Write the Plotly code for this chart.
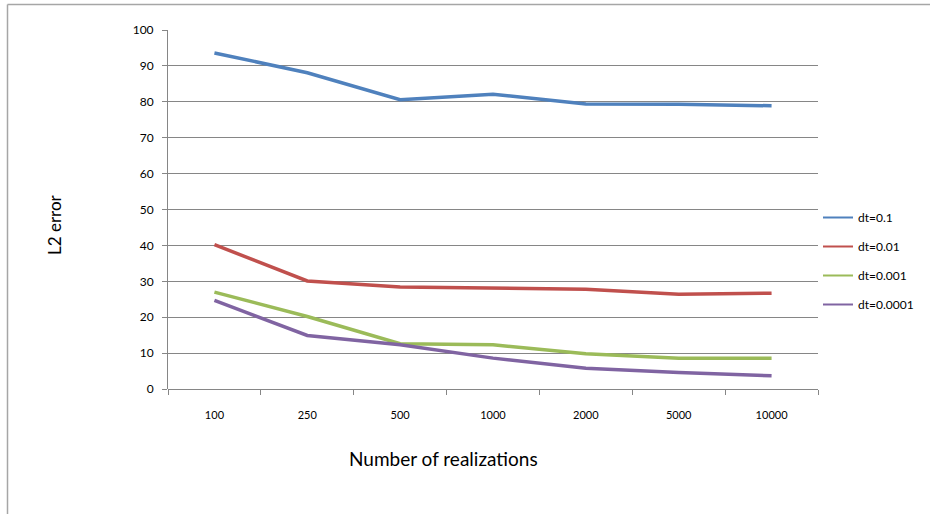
import plotly.graph_objects as go

categories = ["100", "250", "500", "1000", "2000", "5000", "10000"]
dt_01 = [93.6, 88.1, 80.6, 82.1, 79.4, 79.3, 78.9]
dt_001 = [40.2, 30.1, 28.4, 28.1, 27.8, 26.4, 26.7]
dt_0001 = [27.0, 20.2, 12.6, 12.3, 9.8, 8.6, 8.6]
dt_00001 = [24.7, 14.9, 12.3, 8.6, 5.8, 4.6, 3.7]
series_names = ["dt=0.1", "dt=0.01", "dt=0.001", "dt=0.0001"]
colors = ["#4F81BD", "#C0504D", "#9BBB59", "#8064A2"]
y_ticks = [0, 10, 20, 30, 40, 50, 60, 70, 80, 90, 100]

W, H = 930, 514
ML, MR, MT, MB = 168, 112, 30, 125
PW, PH = W - ML - MR, H - MT - MB

def px_x(p):
    return (p - ML) / PW

def px_y(p):
    return (H - MB - p) / PH

FONT = "Lato, 'Open Sans', sans-serif"

fig = go.Figure()
for name, vals, col in zip(series_names, [dt_01, dt_001, dt_0001, dt_00001], colors):
    fig.add_trace(go.Scatter(x=categories, y=vals, mode="lines", name=name,
                             line=dict(color=col, width=3.5), showlegend=False))
for i, (name, col) in enumerate(zip(series_names, colors)):
    fig.add_trace(go.Scatter(x=[categories[0]], y=[None], mode="lines", name=name,
                             line=dict(color=col, width=2), legendgroup=str(i)))

fig.update_layout(
    width=W, height=H,
    margin=dict(l=ML, r=MR, t=MT, b=MB, autoexpand=False),
    paper_bgcolor="white", plot_bgcolor="white",
    font=dict(family=FONT, color="#000000", size=11),
    legend=dict(x=px_x(818), y=px_y(203), xanchor="left", yanchor="top",
                font=dict(size=12, family=FONT), tracegroupgap=10,
                bgcolor="rgba(0,0,0,0)", itemwidth=30),
    xaxis=dict(type="category", tickson="boundaries", ticks="outside", ticklen=5,
               tickcolor="#868686", showline=False, showgrid=False, zeroline=False,
               tickfont=dict(size=11), ticklabelstandoff=18,
               range=[-0.5, 6.5]),
    yaxis=dict(range=[0, 100], tickvals=y_ticks, ticks="outside", ticklen=5,
               tickcolor="#868686", showline=True, linecolor="#868686", linewidth=1,
               showgrid=True, gridcolor="#868686", gridwidth=1, zeroline=True,
               zerolinecolor="#868686", zerolinewidth=1, tickfont=dict(size=12),
               ticklabelstandoff=6),
    annotations=[
        dict(text="Number of realizations", x=px_x(443), y=px_y(458), xref="paper", yref="paper",
             showarrow=False, font=dict(size=19, family=FONT), xanchor="center", yanchor="middle"),
        dict(text="L2 error", x=px_x(54), y=px_y(225), xref="paper", yref="paper",
             showarrow=False, textangle=-90, font=dict(size=17, family=FONT),
             xanchor="center", yanchor="middle"),
    ],
    shapes=[
        dict(type="line", xref="paper", yref="paper", x0=px_x(7.5), x1=px_x(930), y0=px_y(4.5), y1=px_y(4.5),
             line=dict(color="#A6A6A6", width=1.5)),
        dict(type="line", xref="paper", yref="paper", x0=px_x(7.5), x1=px_x(7.5), y0=px_y(4.5), y1=px_y(514),
             line=dict(color="#A6A6A6", width=1.5)),
    ],
)
fig.write_html("out.html", config={"displayModeBar": False},
               post_script="document.body.style.margin='0px';document.body.style.overflow='hidden';")
